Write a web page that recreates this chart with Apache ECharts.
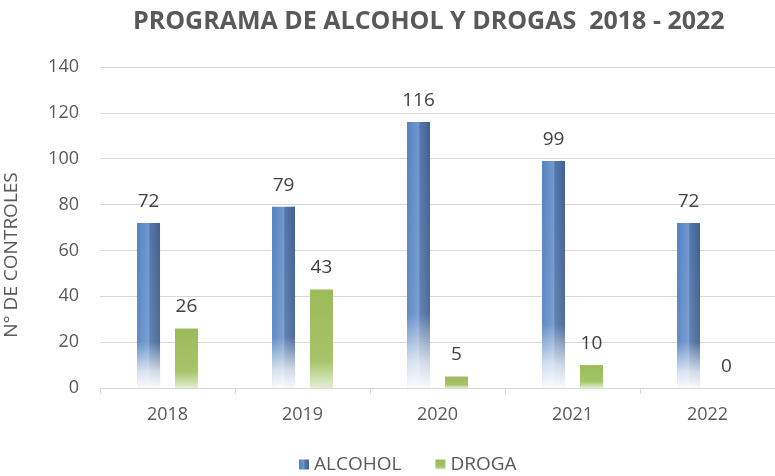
<!DOCTYPE html>
<html><head><meta charset="utf-8">
<script src="https://cdn.jsdelivr.net/npm/echarts@6/dist/echarts.min.js"></script>
<style>html,body{margin:0;padding:0;background:#fff}#c{width:775px;height:476px}</style>
</head><body><div id="c"></div>
<script>
const categories = ['2018','2019','2020','2021','2022'];
const alcohol = [72, 79, 116, 99, 72];
const droga = [26, 43, 5, 10, 0];
const yTicks = [0, 20, 40, 60, 80, 100, 120, 140];

const chart = echarts.init(document.getElementById('c'), null, {renderer:'canvas'});
const FONT = '"Open Sans", "DejaVu Sans", sans-serif';
const alcoholColor = new echarts.graphic.LinearGradient(0,0,1,0,[
  {offset:0,color:'#5280c1'},{offset:0.5,color:'#7098cd'},{offset:0.56,color:'#5578ad'},{offset:1,color:'#40608f'}]);
const fadeColor = new echarts.graphic.LinearGradient(0,0,0,1,[
  {offset:0,color:'rgba(255,255,255,0)'},{offset:0.72,color:'rgba(255,255,255,0.08)'},{offset:0.9,color:'rgba(255,255,255,0.75)'},{offset:1,color:'rgba(255,255,255,0.97)'}]);
const drogaColor = new echarts.graphic.LinearGradient(0,0,0,1,[
  {offset:0,color:'#9bbb59'},{offset:0.72,color:'#a6c468'},{offset:1,color:'#e4eed3'}]);
const labelStyle = {show:true,position:'top',distance:12,fontFamily:FONT,fontSize:19,color:'#404040'};
chart.setOption({
  animation:false,
  title:{text:'PROGRAMA DE ALCOHOL Y DROGAS  2018 - 2022',left:128,top:4,
    textStyle:{fontFamily:FONT,fontWeight:'bold',fontSize:25,color:'#595959'}},
  grid:{left:100,right:0,top:67,bottom:88},
  legend:{bottom:-3,left:294,itemWidth:10,itemHeight:10,itemGap:34,
    textStyle:{fontFamily:FONT,fontSize:19,color:'#595959'},
    data:[{name:'ALCOHOL',icon:'rect'},{name:'DROGA',icon:'rect'}]},
  xAxis:[{type:'category',data:categories,
    axisLine:{lineStyle:{color:'#d9d9d9'}},
    axisTick:{show:true,length:6,lineStyle:{color:'#d9d9d9'}},
    axisLabel:{fontFamily:FONT,fontSize:18,color:'#595959',margin:18}},
    {type:'category',data:categories,show:false,position:'bottom'}],
  yAxis:{type:'value',min:0,max:140,interval:20,
    axisLine:{show:false},axisTick:{show:false},
    splitLine:{lineStyle:{color:'#d9d9d9'}},
    axisLabel:{fontFamily:FONT,fontSize:18,color:'#595959',margin:21,
      formatter:v=>yTicks.includes(v)?String(v):''}},
  graphic:[{type:'text',x:21,y:255,rotation:Math.PI/2,
    style:{text:'N° DE CONTROLES',fontFamily:FONT,fontSize:19,fill:'#595959',
      textAlign:'center',textVerticalAlign:'bottom'}}],
  series:[
    {name:'ALCOHOL',type:'bar',data:alcohol,barWidth:23,barGap:'65%',xAxisIndex:0,
      itemStyle:{color:alcoholColor},label:labelStyle},
    {name:'DROGA',type:'bar',data:droga,barWidth:23,xAxisIndex:0,
      itemStyle:{color:drogaColor},label:labelStyle},
    {name:'fade',type:'bar',data:alcohol,barWidth:23,barGap:'65%',xAxisIndex:1,silent:true,
      itemStyle:{color:fadeColor}},
    {name:'blank',type:'bar',data:droga.map(()=>null),barWidth:23,xAxisIndex:1,silent:true}
  ]
});
</script></body></html>
